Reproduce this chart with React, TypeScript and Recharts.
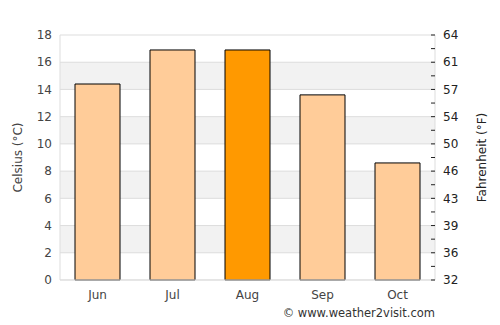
import { Bar, BarChart, CartesianGrid, Cell, Line, XAxis, YAxis } from 'recharts';

const months = ['Jun', 'Jul', 'Aug', 'Sep', 'Oct'];
const celsius = [14.4, 16.9, 16.9, 13.6, 8.6];
const highlight = ['Aug'];
const celsiusTicks = [0, 2, 4, 6, 8, 10, 12, 14, 16, 18];
const fahrenheitLabels = ['32', '36', '39', '43', '46', '50', '54', '57', '61', '64'];
const rightTicks = [0, 1, 2, 3, 4, 5, 6, 7, 8, 9, 10, 11, 12, 13, 14, 15, 16, 17, 18];

const data = months.map((month, i) => ({ month, celsius: celsius[i] }));

const font = 'DejaVu Sans, sans-serif';
const tickStyle = { fill: '#444', fontSize: 12, fontFamily: font };

export default function App() {
  return (
    <div style={{ position: 'absolute', left: 0, top: 0, width: 500, height: 325, background: '#fff' }}>
      <BarChart width={500} height={325} data={data} margin={{ top: 35, right: 0, bottom: 0, left: 0 }} barCategoryGap="20%">
        <CartesianGrid
          yAxisId="c"
          vertical={false}
          stroke="#dddddd"
          horizontalFill={['#ffffff', '#f2f2f2']}
        />
        <XAxis
          dataKey="month"
          height={45}
          tick={tickStyle}
          tickLine={false}
          tickMargin={4}
          axisLine={{ stroke: '#dddddd' }}
        />
        <YAxis
          yAxisId="c"
          orientation="left"
          width={60}
          domain={[0, 18]}
          ticks={celsiusTicks}
          tick={tickStyle}
          tickLine={false}
          axisLine={{ stroke: '#dddddd' }}
          label={{ value: 'Celsius (°C)', angle: -90, position: 'insideLeft', dx: 13, style: { fill: '#444', fontSize: 12, fontFamily: font, textAnchor: 'middle' } }}
        />
        <YAxis
          yAxisId="f"
          orientation="right"
          width={65}
          domain={[0, 18]}
          ticks={rightTicks}
          interval={0}
          tickFormatter={(v: number) => (v % 2 === 0 ? fahrenheitLabels[v / 2] : '')}
          tick={{ ...tickStyle, fill: '#222' }}
          tickSize={-4}
          tickMargin={12}
          tickLine={{ stroke: '#222' }}
          axisLine={{ stroke: '#dddddd' }}
          label={{ value: 'Fahrenheit (°F)', angle: -90, position: 'insideRight', dx: -13, style: { fill: '#222', fontSize: 12, fontFamily: font, textAnchor: 'middle' } }}
        />
        <Bar dataKey="celsius" yAxisId="c" stroke="#000" strokeWidth={1} isAnimationActive={false}>
          {data.map((d) => (
            <Cell key={d.month} fill={highlight.includes(d.month) ? '#ff9900' : '#ffcc99'} />
          ))}
        </Bar>
        <Line dataKey="celsius" yAxisId="f" stroke="none" dot={false} activeDot={false} legendType="none" isAnimationActive={false} />
      </BarChart>
      <div
        style={{
          position: 'absolute',
          right: 65,
          top: 306,
          fontFamily: font,
          fontSize: 11.5,
          color: '#333',
          whiteSpace: 'nowrap',
        }}
      >
        © www.weather2visit.com
      </div>
    </div>
  );
}
